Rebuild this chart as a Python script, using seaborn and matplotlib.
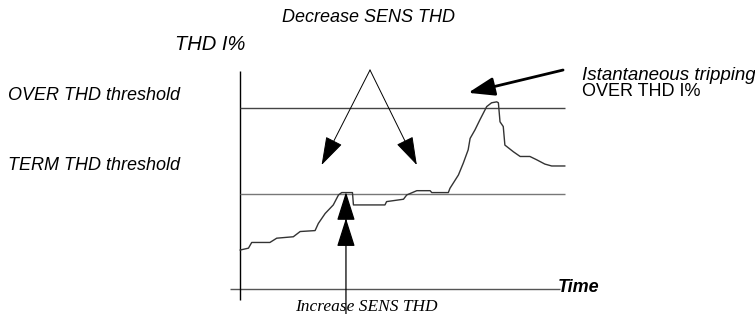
import matplotlib
matplotlib.use("Agg")
import matplotlib.pyplot as plt
import seaborn as sns
import pandas as pd

# THD I% trace (time in arbitrary units, THD in %)
time = [0, 2.6, 3.6, 9.2, 11.3, 16.4, 18.5, 23.1, 24.1, 26.2, 28.7, 30.3, 31.3,
        34.6, 34.9, 44.6, 45.1, 50.3, 51.3, 54.4, 58.5, 59.0, 64.1, 64.6, 67.2,
        68.7, 70.2, 70.8, 72.3, 73.8, 75.9, 77.4, 79.0, 79.5, 80.0, 81.0, 81.5,
        84.1, 86.2, 89.2, 91.3, 93.8, 95.9, 100]
thd = [8.2, 8.6, 9.8, 9.8, 10.7, 11.0, 12.1, 12.3, 13.8, 15.9, 17.7, 19.8, 20.3,
       20.3, 17.7, 17.7, 18.4, 18.9, 19.8, 20.7, 20.7, 20.3, 20.3, 21.2, 24.0,
       26.5, 29.3, 31.7, 33.5, 35.6, 38.4, 39.2, 39.4, 39.2, 35.2, 34.2, 30.3,
       28.9, 27.9, 27.9, 27.2, 26.3, 25.9, 25.9]

term_thd = 20.0
over_thd = 38.0

# annotation anchors (data units)
decrease_apex = (40.0, 46.1)
decrease_tips = [(25.1, 26.1), (54.4, 26.1)]
increase_x = 32.6
increase_tips = [20.4, 14.9]
trip_tail = (99.4, 46.1)
trip_tip = (70.2, 41.3)

df = pd.DataFrame({"time": time, "thd": thd})

sns.set_style("white")
plt.rcParams["font.family"] = ["Liberation Sans", "DejaVu Sans"]
plt.rcParams["text.color"] = "black"

fig = plt.figure(figsize=(7.55, 3.14), dpi=100)
ax = fig.add_axes([0, 0, 1, 1])
ax.set_xlim(-73.85, 158.46)
ax.set_ylim(-5.26, 60.84)
ax.axis("off")

# axes drawn by hand
ax.hlines(0, -3.1, 98.5, color="#555555", lw=1.0)
ax.vlines(0, -2.3, 45.9, color="black", lw=1.0)

# thresholds
ax.hlines(over_thd, 0, 100, color="#444444", lw=1.0)
ax.hlines(term_thd, 0, 100, color="#777777", lw=1.0)

sns.lineplot(data=df, x="time", y="thd", ax=ax, color="#333333", lw=1.0,
             sort=False, estimator=None)

head = dict(arrowstyle="-|>,head_length=1.2,head_width=0.38", color="black",
            lw=0.7, mutation_scale=15, shrinkA=0, shrinkB=0)
for tip in decrease_tips:
    ax.annotate("", xy=tip, xytext=decrease_apex, arrowprops=head)

ax.annotate("", xy=(increase_x, increase_tips[0]), xytext=(increase_x, -5.3),
            arrowprops=dict(head, lw=0.9))
ax.annotate("", xy=(increase_x, increase_tips[1]),
            xytext=(increase_x, increase_tips[1] - 3),
            arrowprops=dict(head, lw=0.9))

ax.annotate("", xy=trip_tip, xytext=trip_tail,
            arrowprops=dict(arrowstyle="-|>,head_length=1.0,head_width=0.35",
                            color="black", lw=2.0, mutation_scale=16,
                            shrinkA=0, shrinkB=0))

fs = 13
fig.text(369 / 755, 1 - 18 / 314, "Decrease SENS THD", style="italic",
         fontsize=fs, ha="center", va="center")
fig.text(175 / 755, 1 - 45 / 314, "THD I%", style="italic",
         fontsize=14.5, ha="left", va="center")
fig.text(582 / 755, 1 - 75 / 314, "Istantaneous tripping", style="italic",
         fontsize=13.5, ha="left", va="center")
fig.text(582 / 755, 1 - 92 / 314, "OVER THD I%",
         fontsize=fs, ha="left", va="center")
fig.text(8 / 755, 1 - 96 / 314, "OVER THD threshold", style="italic",
         fontsize=fs, ha="left", va="center")
fig.text(8 / 755, 1 - 166 / 314, "TERM THD threshold", style="italic",
         fontsize=fs, ha="left", va="center")
fig.text(558 / 755, 1 - 287 / 314, "Time", style="italic", weight="bold",
         fontsize=fs, ha="left", va="center")
fig.text(366 / 755, 1 - 307 / 314, "Increase SENS THD", style="italic",
         family=["Liberation Serif", "DejaVu Serif"], fontsize=12.5,
         ha="center", va="center")

fig.savefig("out.png", dpi=100)
